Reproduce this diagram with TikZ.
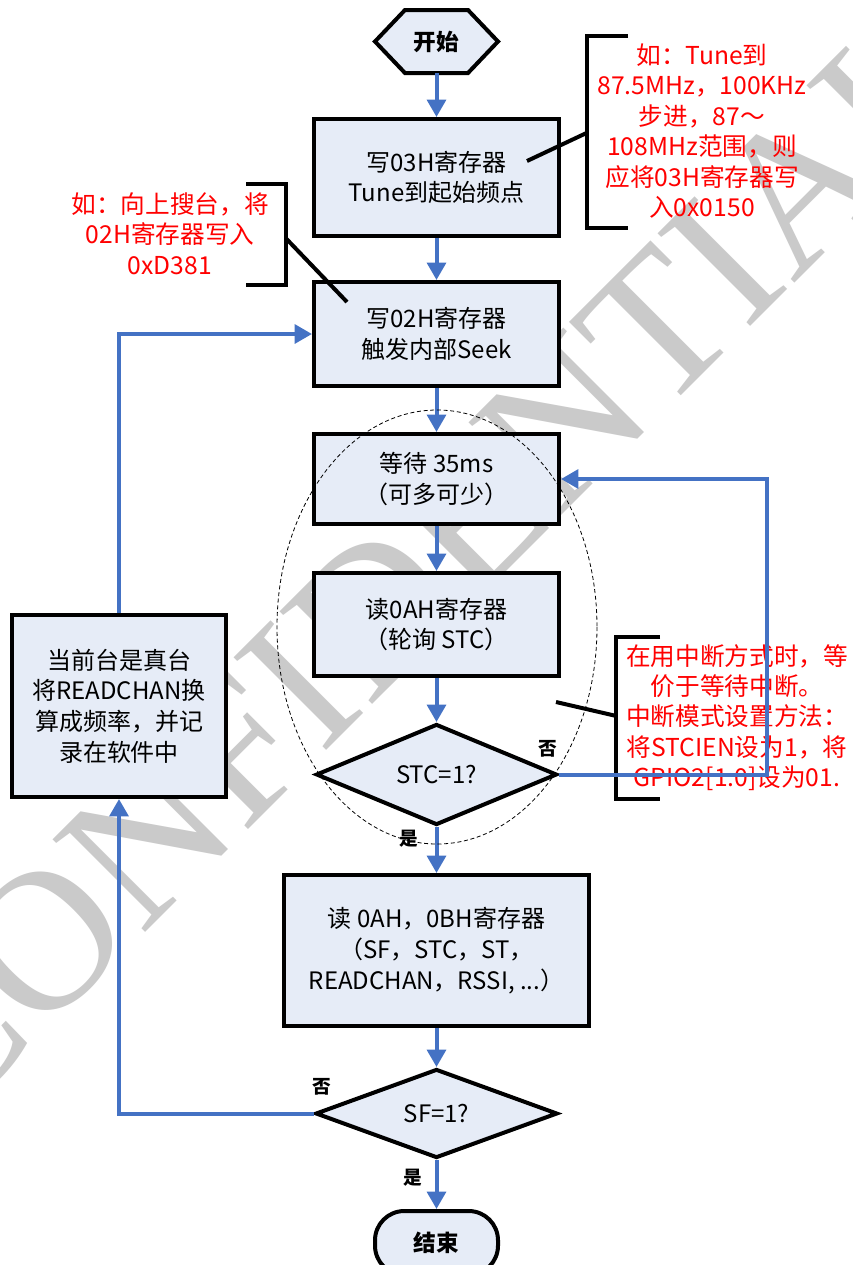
\documentclass[tikz,border=0pt]{standalone}
\usepackage{fontspec}
\setmainfont{Noto Sans CJK SC}
\newfontfamily\wmfont{Liberation Serif}
\usetikzlibrary{shapes.geometric,arrows.meta}
\definecolor{boxfill}{RGB}{230,236,247}
\definecolor{flowblue}{RGB}{68,114,196}
\definecolor{wmgray}{RGB}{202,202,202}
\begin{document}
\begin{tikzpicture}[x=0.75pt,y=-0.75pt,
  box/.style={draw=black,line width=3pt,fill=boxfill,align=center,
    font=\fontsize{18}{23}\selectfont,inner sep=0pt},
  dia/.style={box,shape=diamond,aspect=2.4},
  flow/.style={draw=flowblue,line width=3pt,-{Triangle[width=14pt 0 0,length=13pt 0 0]}},
  note/.style={text=red,align=center,font=\fontsize{18.5}{22.8}\selectfont,inner sep=0pt},
  bracket/.style={draw=black,line width=3pt},
  lbl/.style={font=\bfseries\fontsize{14}{14}\selectfont,inner sep=0pt}]
\useasboundingbox (0,0) rectangle (853,1265);
\fill[white] (0,0) rectangle (853,1265);
% watermark
\node[rotate=45,text=wmgray,inner sep=0pt,font=\wmfont\fontsize{150}{150}\selectfont] (wm) at (417,568) {CONFIDENTIAL};

% start hexagon
\filldraw[fill=boxfill,draw=black,line width=3pt,line join=miter]
  (375,41.5) -- (405,10) -- (468,10) -- (498,41.5) -- (468,73) -- (405,73) -- cycle;
\node[inner sep=0pt,minimum width=92pt,minimum height=47pt,font=\bfseries\fontsize{17}{23}\selectfont] (start) at (436.5,41.5) {开始};

% main boxes
\node[box,minimum width=183.75pt,minimum height=87.75pt] (box1) at (436.5,177.5) {写03H寄存器\\Tune到起始频点};
\node[box,minimum width=183.75pt,minimum height=78pt] (box2) at (436.5,334) {写02H寄存器\\触发内部Seek};
\node[box,minimum width=183.75pt,minimum height=67.5pt] (box3) at (436.5,479) {等待 35ms\\（可多可少）};
\node[box,minimum width=183.75pt,minimum height=77.25pt] (box4) at (436.5,624.5) {读0AH寄存器\\（轮询 STC）};
\node[dia,minimum width=180.75pt,minimum height=75.75pt] (stc) at (436.5,774.5) {STC=1?};
\node[box,minimum width=228.75pt,minimum height=113.25pt] (box5) at (436.5,950.5) {读 0AH，0BH寄存器\\（SF，STC，ST，\\READCHAN，RSSI, ...）};
\node[dia,minimum width=181.5pt,minimum height=66.75pt] (sf) at (436.5,1113.5) {SF=1?};
\node[box,rounded corners=22pt,minimum width=92.25pt,minimum height=48pt,font=\bfseries\fontsize{17}{23}\selectfont] (stop) at (436.5,1243) {结束};
\node[box,minimum width=160.5pt,minimum height=136.5pt] (left) at (119,706) {当前台是真台\\将READCHAN换\\算成频率，并记\\录在软件中};

% notes
\node[note] (n1) at (702,131) {如：Tune到\\87.5MHz，100KHz\\步进，87～\\108MHz范围，则\\应将03H寄存器写\\入0x0150};
\node[note] (n2) at (170,233.5) {如：向上搜台，将\\02H寄存器写入\\0xD381};
\node[note] (n3) at (737,717.5) {在用中断方式时，等\\价于等待中断。\\中断模式设置方法：\\将STCIEN设为1，将\\GPIO2[1:0]设为01.};

% brackets
\coordinate (b1t) at (628,36);
\coordinate (b1b) at (628,227.5);
\coordinate (b1m) at (586.5,133);
\coordinate (b1p) at (527,161);
\draw[bracket] (b1t) -- (586.5,36) -- (586.5,227.5) -- (b1b);
\draw[bracket] (b1p) -- (b1m);
\coordinate (b2t) at (246,184);
\coordinate (b2b) at (246,284.5);
\coordinate (b2m) at (285.6,238);
\coordinate (b2p) at (347,302);
\draw[bracket] (b2t) -- (285.6,184) -- (285.6,284.5) -- (b2b);
\draw[bracket] (b2m) -- (b2p);
\coordinate (b3t) at (660,637);
\coordinate (b3b) at (660,798.5);
\coordinate (b3m) at (616.4,716);
\coordinate (b3p) at (556,702);
\draw[bracket] (b3t) -- (616.4,637) -- (616.4,798.5) -- (b3b);
\draw[bracket] (b3p) -- (b3m);

% flow connectors
\draw[flow] (start.south) -- (box1.north);
\draw[flow] (box1.south) -- (box2.north);
\draw[flow] (box2.south) -- (box3.north);
\draw[flow] (box3.south) -- (box4.north);
\draw[flow] (box4.south) -- (stc.north);
\draw[flow] (stc.south) -- (box5.north);
\draw[flow] (box5.south) -- (sf.north);
\draw[flow] (sf.south) -- (stop.north);
\coordinate (rx) at (767,0);
\draw[flow] (stc.east) -- (stc.east -| rx) |- (box3.east);
\draw[flow] (sf.west) -| (left.south);
\draw[flow] (left.north) |- (box2.west);

% dashed ellipse
\draw[black,line width=0.6pt,dash pattern=on 3pt off 2pt] (437,627) ellipse [x radius=160, y radius=217];

% labels
\node[lbl] (no1) at (548,749) {否};
\node[lbl] (yes1) at (409,839) {是};
\node[lbl] (no2) at (322,1087) {否};
\node[lbl] (yes2) at (413,1178) {是};
\end{tikzpicture}
\end{document}
